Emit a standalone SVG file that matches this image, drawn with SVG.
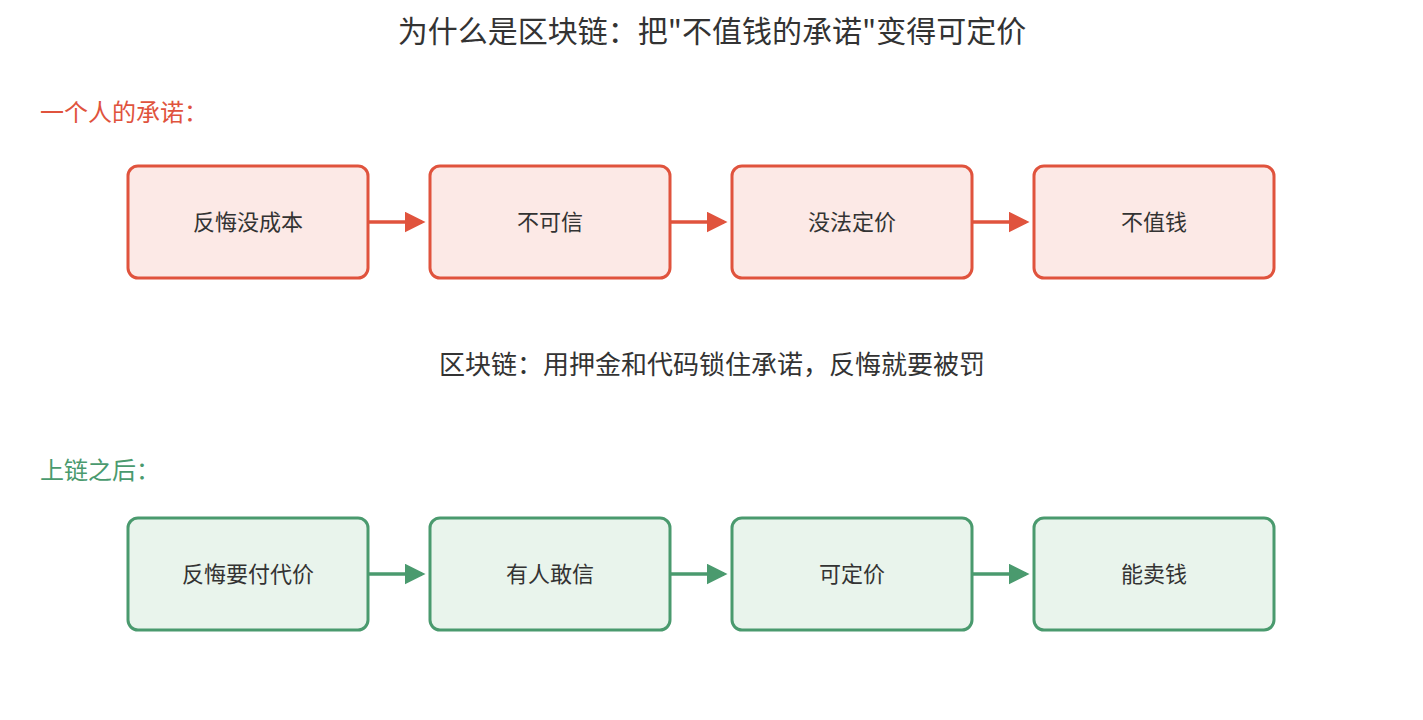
<svg xmlns="http://www.w3.org/2000/svg" width="1423" height="720" viewBox="0 0 1423 720">
<style>
text{font-family:"Noto Sans CJK SC","Noto Sans",sans-serif;fill:#333}
.r rect{fill:#fce9e6;stroke:#e0533d;stroke-width:3}
.g rect{fill:#e9f4ec;stroke:#4a9a6e;stroke-width:3}
.n text{font-size:22px;text-anchor:middle;dominant-baseline:central}
.cr{stroke:#e0533d;stroke-width:3.5;fill:none}
.cg{stroke:#4a9a6e;stroke-width:3.5;fill:none}
</style>
<defs>
<marker id="mr" markerWidth="6" markerHeight="6" refX="5" refY="3" orient="auto" markerUnits="strokeWidth"><path d="M0,0L6,3L0,6z" fill="#e0533d"/></marker>
<marker id="mg" markerWidth="6" markerHeight="6" refX="5" refY="3" orient="auto" markerUnits="strokeWidth"><path d="M0,0L6,3L0,6z" fill="#4a9a6e"/></marker>
</defs>
<rect width="1423" height="720" fill="#fff"/>
<text x="712" y="29" font-size="30" text-anchor="middle" dominant-baseline="central">为什么是区块链：把"不值钱的承诺"变得可定价</text>
<text x="40" y="110" font-size="24" dominant-baseline="central" style="fill:#e0533d">一个人的承诺：</text>
<text x="712" y="362" font-size="26" text-anchor="middle" dominant-baseline="central">区块链：用押金和代码锁住承诺，反悔就要被罚</text>
<text x="40" y="468" font-size="24" dominant-baseline="central" style="fill:#4a9a6e">上链之后：</text>
<g id="connectors">
<path class="cr" d="M368,222H422" marker-end="url(#mr)"/>
<path class="cr" d="M670,222H724" marker-end="url(#mr)"/>
<path class="cr" d="M972,222H1026" marker-end="url(#mr)"/>
<path class="cg" d="M368,574H422" marker-end="url(#mg)"/>
<path class="cg" d="M670,574H724" marker-end="url(#mg)"/>
<path class="cg" d="M972,574H1026" marker-end="url(#mg)"/>
</g>
<g id="r1" class="n r"><rect x="128" y="166" width="240" height="112" rx="10"/><text x="248" y="220">反悔没成本</text></g>
<g id="r2" class="n r"><rect x="430" y="166" width="240" height="112" rx="10"/><text x="550" y="220">不可信</text></g>
<g id="r3" class="n r"><rect x="732" y="166" width="240" height="112" rx="10"/><text x="852" y="220">没法定价</text></g>
<g id="r4" class="n r"><rect x="1034" y="166" width="240" height="112" rx="10"/><text x="1154" y="220">不值钱</text></g>
<g id="g1" class="n g"><rect x="128" y="518" width="240" height="112" rx="10"/><text x="248" y="572">反悔要付代价</text></g>
<g id="g2" class="n g"><rect x="430" y="518" width="240" height="112" rx="10"/><text x="550" y="572">有人敢信</text></g>
<g id="g3" class="n g"><rect x="732" y="518" width="240" height="112" rx="10"/><text x="852" y="572">可定价</text></g>
<g id="g4" class="n g"><rect x="1034" y="518" width="240" height="112" rx="10"/><text x="1154" y="572">能卖钱</text></g>
</svg>
